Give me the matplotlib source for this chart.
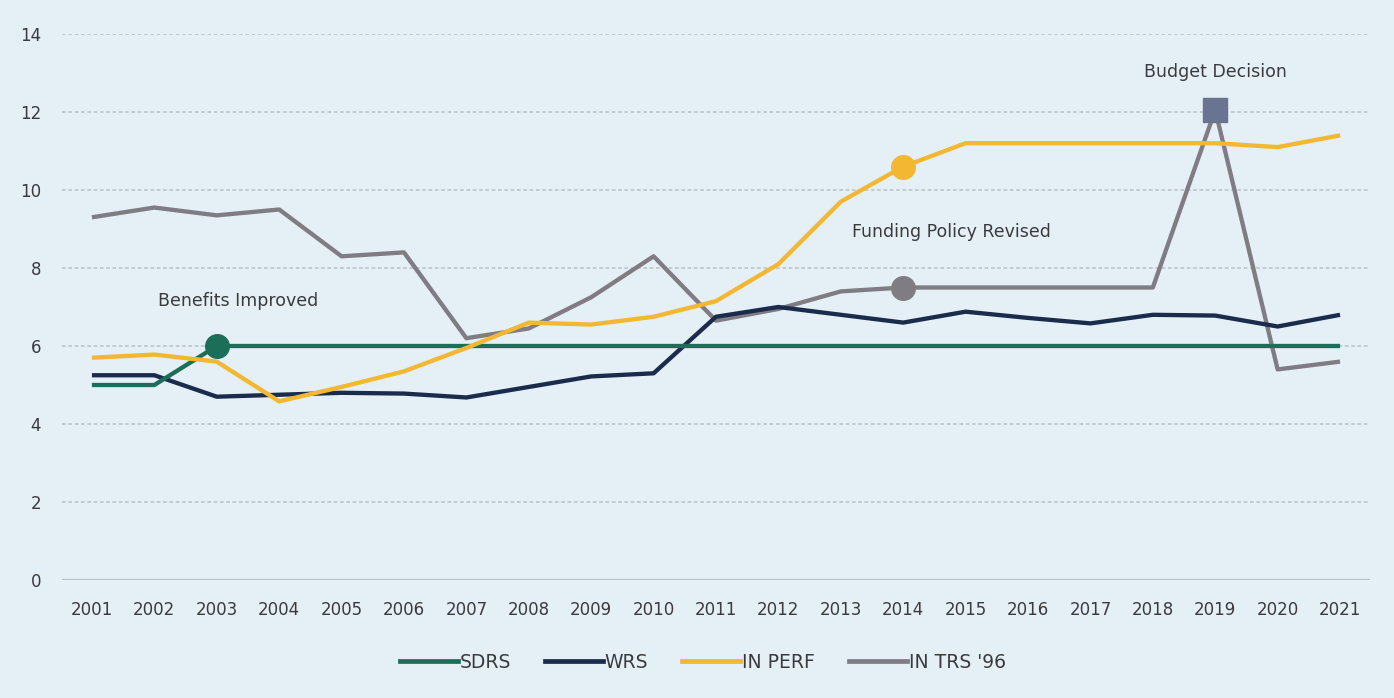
import matplotlib
matplotlib.use("Agg")
import matplotlib.pyplot as plt
from matplotlib.lines import Line2D

years = list(range(2001, 2022))
sdrs = [5.0, 5.0, 6.0, 6.0, 6.0, 6.0, 6.0, 6.0, 6.0, 6.0, 6.0, 6.0, 6.0, 6.0, 6.0, 6.0, 6.0, 6.0, 6.0, 6.0, 6.0]
wrs = [5.25, 5.25, 4.7, 4.75, 4.8, 4.78, 4.68, 4.95, 5.22, 5.3, 6.75, 7.0, 6.8, 6.6, 6.88, 6.72, 6.58, 6.8, 6.78, 6.5, 6.8]
in_perf = [5.7, 5.78, 5.6, 4.58, 4.95, 5.35, 5.95, 6.6, 6.55, 6.75, 7.15, 8.1, 9.7, 10.6, 11.2, 11.2, 11.2, 11.2, 11.2, 11.1, 11.4]
in_trs96 = [9.3, 9.55, 9.35, 9.5, 8.3, 8.4, 6.2, 6.45, 7.25, 8.3, 6.65, 6.95, 7.4, 7.5, 7.5, 7.5, 7.5, 7.5, 12.05, 5.4, 5.6]
series_names = ["SDRS", "WRS", "IN PERF", "IN TRS '96"]
yticks = [0, 2, 4, 6, 8, 10, 12, 14]

bg = "#e4eff6"
colors = {"SDRS": "#1d6e58", "WRS": "#1b2b4b", "IN PERF": "#f4b731", "IN TRS '96": "#7f7d83"}
text_c = "#3b3b3d"

plt.rcParams['font.family'] = ['DejaVu Sans']

fig = plt.figure(figsize=(13.94, 6.98), dpi=100, facecolor=bg)
ax = fig.add_axes([62/1394, (698-580)/698, (1370-62)/1394, (580-34)/698], facecolor=bg)

ax.set_xlim(2000.52, 2021.48)
ax.set_ylim(0, 14)

for t in yticks[1:]:
    ax.axhline(t, color="#c0c8ce", lw=1.3, ls=(0, (2, 1.5)), zorder=1)
ax.axhline(0, color="#b9c0c5", lw=1.6, zorder=1)

data = {"SDRS": sdrs, "WRS": wrs, "IN PERF": in_perf, "IN TRS '96": in_trs96}
order = ["IN TRS '96", "WRS", "SDRS", "IN PERF"]
z = {"IN TRS '96": 3, "WRS": 4, "SDRS": 5, "IN PERF": 6}
for name in order:
    ax.plot(years, data[name], color=colors[name], lw=3.1, solid_joinstyle="round",
            solid_capstyle="butt", zorder=z[name], clip_on=False)

# markers
ax.plot([2003], [sdrs[2]], 'o', color=colors["SDRS"], ms=17, zorder=7)
ax.plot([2014], [in_perf[13]], 'o', color=colors["IN PERF"], ms=17, zorder=7)
ax.plot([2014], [in_trs96[13]], 'o', color=colors["IN TRS '96"], ms=17, zorder=7)
ax.plot([2019], [in_trs96[18]], 's', color="#6a7390", ms=17, zorder=7)

ax.text(2003.34, 7.15, "Benefits Improved", ha="center", va="center", fontsize=12.5, color=text_c)
ax.text(2014.77, 8.92, "Funding Policy Revised", ha="center", va="center", fontsize=12.5, color=text_c)
ax.text(2019.0, 13.03, "Budget Decision", ha="center", va="center", fontsize=12.5, color=text_c)

ax.set_xticks(years)
ax.set_xticklabels([str(y) for y in years], fontsize=12, color=text_c)
ax.set_yticks(yticks)
ax.set_yticklabels([str(t) for t in yticks], fontsize=12, color=text_c)
ax.tick_params(axis="both", length=0)
ax.tick_params(axis="x", pad=15)
ax.tick_params(axis="y", pad=15)
for s in ax.spines.values():
    s.set_visible(False)

handles = [Line2D([0], [0], color=colors[n], lw=3.4) for n in series_names]
fig.legend(handles, series_names, loc="center", bbox_to_anchor=(0.504, 1 - 662/698), ncol=4,
           frameon=False, fontsize=13.5, handlelength=3.1, handletextpad=0.1, columnspacing=1.8,
           labelcolor=text_c)

fig.savefig("out.png", dpi=100, facecolor=bg)
